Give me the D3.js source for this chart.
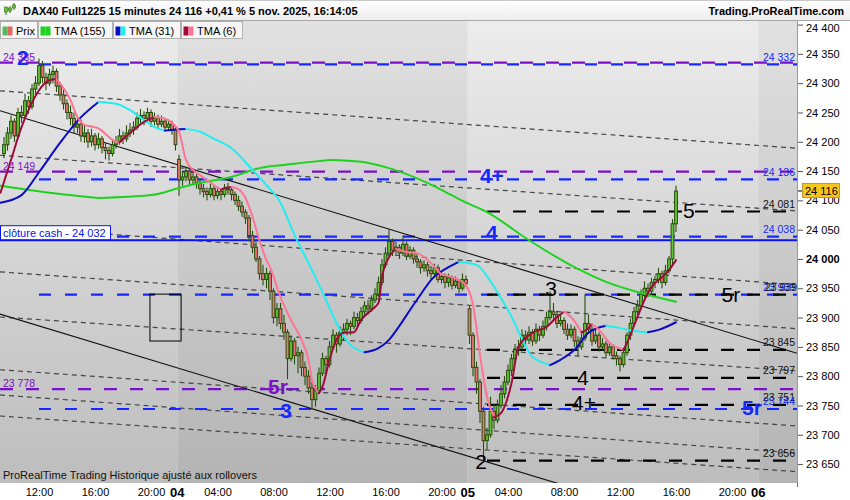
<!DOCTYPE html>
<html><head><meta charset="utf-8">
<script src="https://cdn.jsdelivr.net/npm/d3@7"></script>
<style>body{margin:0;background:#fff}svg{display:block;font-family:"Liberation Sans",Arial,sans-serif}</style>
</head><body><svg id="c" width="850" height="500"></svg>
<script>
// ---------------- DATA ----------------
const dayNames = ["03","04","05","06"];
const sessionOpen = "01:15", firstBarTime = "09:30", barsPerSession = 83;
const timeTicks = [[0,"12:00"],[0,"16:00"],[0,"20:00"],[1,"04:00"],[1,"08:00"],[1,"12:00"],[1,"16:00"],[1,"20:00"],[2,"04:00"],[2,"08:00"],[2,"12:00"],[2,"16:00"],[2,"20:00"]];
const dayTicks = [1,2,3];
const yTicks = [23650,23700,23750,23800,23850,23900,23950,24000,24050,24100,24150,24200,24250,24300,24350,24400];
const lastPrice = 24116;

const opens = [
24180,24195,24215,24235,24210,24250,24245,24270,24260,24290,
24300,24330,24310,24300,24315,24320,24295,24280,24265,24250,
24240,24225,24230,24210,24215,24200,24210,24195,24205,24190,
24185,24180,24195,24200,24210,24205,24215,24220,24225,24240,
24245,24240,24250,24235,24240,24230,24235,24225,24230,24220,
24170,24135,24140,24150,24135,24140,24130,24120,24115,24110,
24120,24108,24115,24110,24120,24118,24110,24100,24090,24080,
24070,24040,24020,24000,23975,23965,23975,23945,23900,23915,
23890,23875,23830,23860,23835,23840,23815,23800,23780,23760,
23775,23805,23830,23820,23850,23870,23855,23875,23880,23890,
23885,23900,23895,23910,23920,23915,23930,23940,23960,23990,
24010,24030,24015,24020,24010,24025,24005,24015,24000,23995,
23985,23990,23980,23975,23985,23965,23970,23960,23968,23955,
23962,23950,23965,23915,23870,23815,23790,23740,23690,23700,
23740,23725,23750,23770,23790,23810,23830,23845,23850,23870,
23862,23875,23860,23880,23870,23885,23900,23910,23905,23890,
23895,23880,23870,23880,23860,23850,23865,23890,23880,23860,
23870,23850,23855,23840,23850,23835,23830,23820,23840,23870,
23890,23910,23920,23940,23950,23945,23960,23965,23975,23960,
23980,24000,24060];
const highs = [
24208,24225,24245,24240,24258,24262,24282,24278,24298,24312,
24342,24338,24318,24325,24330,24325,24302,24290,24272,24262,
24250,24245,24238,24228,24222,24222,24215,24215,24210,24198,
24192,24205,24210,24222,24218,24228,24232,24235,24250,24256,
24252,24258,24255,24250,24246,24245,24240,24238,24236,24225,
24178,24150,24158,24155,24148,24145,24138,24128,24122,24128,
24125,24122,24120,24128,24130,24122,24115,24108,24098,24085,
24075,24048,24030,24005,23990,23985,23980,23950,23925,23925,
23905,23880,23870,23865,23850,23845,23825,23810,23790,23785,
23815,23840,23835,23860,23880,23875,23885,23890,23898,23895,
23910,23908,23918,23928,23930,23938,23950,23970,24000,24020,
24050,24035,24030,24025,24040,24030,24022,24020,24008,24000,
23998,23995,23988,23992,23990,23978,23975,23975,23972,23970,
23966,23975,23972,23920,23875,23825,23795,23748,23712,23765,
23752,23760,23785,23800,23820,23838,23855,23862,23880,23878,
23885,23880,23890,23886,23895,23910,23945,23925,23912,23905,
23900,23890,23888,23885,23868,23875,23940,23905,23885,23880,
23875,23865,23860,23858,23855,23842,23835,23848,23875,23898,
23918,23930,23948,23962,23958,23968,23972,23985,23980,23990,
24005,24068,24125];
const lows = [
24172,24185,24205,24200,24205,24232,24240,24248,24255,24280,
24295,24300,24288,24295,24300,24285,24270,24255,24238,24228,
24215,24215,24200,24198,24190,24192,24185,24188,24180,24170,
24168,24175,24188,24195,24196,24200,24208,24212,24220,24232,
24228,24235,24225,24228,24222,24225,24218,24220,24212,24185,
24108,24125,24132,24125,24128,24120,24110,24105,24100,24105,
24100,24102,24100,24105,24110,24100,24092,24082,24072,24060,
24030,24010,23995,23965,23955,23950,23930,23890,23885,23880,
23862,23795,23825,23820,23805,23800,23785,23770,23745,23748,
23770,23800,23805,23815,23845,23840,23850,23860,23870,23870,
23880,23885,23890,23900,23905,23910,23925,23935,23955,23985,
24005,24005,24008,24000,24005,23998,24000,23992,23985,23975,
23978,23970,23965,23968,23960,23958,23950,23952,23948,23950,
23942,23946,23952,23855,23800,23770,23720,23656,23675,23695,
23710,23720,23745,23762,23785,23800,23822,23835,23845,23850,
23855,23852,23855,23860,23865,23878,23895,23895,23882,23885,
23872,23862,23865,23850,23835,23845,23860,23872,23852,23855,
23842,23845,23832,23835,23828,23818,23808,23815,23835,23862,
23885,23900,23915,23932,23935,23940,23950,23958,23950,23955,
23975,23990,24046];
const closes = [
24195,24215,24235,24210,24250,24245,24270,24260,24290,24300,
24330,24310,24300,24315,24320,24295,24280,24265,24250,24240,
24225,24230,24210,24215,24200,24210,24195,24205,24190,24185,
24180,24195,24200,24210,24205,24215,24220,24225,24240,24245,
24240,24250,24235,24240,24230,24235,24225,24230,24220,24195,
24135,24140,24150,24135,24140,24130,24120,24115,24110,24120,
24108,24115,24110,24120,24118,24110,24100,24090,24080,24070,
24040,24020,24000,23975,23965,23975,23945,23900,23915,23890,
23875,23830,23860,23835,23840,23815,23800,23780,23760,23775,
23805,23830,23820,23850,23870,23855,23875,23880,23890,23885,
23900,23895,23910,23920,23915,23930,23940,23960,23990,24010,
24030,24015,24020,24010,24025,24005,24015,24000,23995,23985,
23990,23980,23975,23985,23965,23970,23960,23968,23955,23962,
23950,23965,23958,23870,23815,23790,23740,23690,23700,23740,
23725,23750,23770,23790,23810,23830,23845,23850,23870,23862,
23875,23860,23880,23870,23885,23900,23910,23905,23890,23895,
23880,23870,23880,23860,23850,23865,23890,23880,23860,23870,
23850,23855,23840,23850,23835,23830,23820,23840,23870,23890,
23910,23920,23940,23950,23945,23960,23965,23975,23960,23980,
24000,24060,24116];

// moving averages (bar index, price)
const tma155Idx = [-1,13,27,42,50,56,65,73,79,85,93,102,110,119,125,131,138,150,163,172,182,192];
const tma155Val = [24125,24113,24104,24109,24121,24130,24140,24155,24160,24164,24169,24166,24155,24135,24118,24099,24080,24032,23986,23961,23942,23927];
const tma31Idx = [-1,5,10,16,22,27,32,36,40,43,46,49,52,56,60,65,71,75,79,83,88,92,96,99,103,107,110,113,116,119,122,127,130,135,139,142,145,147,151,156,159,163,167,172,176,180,184,187,192];
const tma31Val = [24096,24109,24148,24198,24242,24268,24265,24254,24237,24225,24219,24221,24222,24217,24205,24189,24152,24126,24096,24041,23981,23930,23879,23853,23841,23848,23862,23886,23913,23939,23964,23986,23995,23990,23962,23933,23902,23876,23833,23819,23828,23845,23874,23886,23882,23877,23875,23879,23892];
const tma6Idx = [-1,2,5,7,10,13,15,16,19,21,23,25,27,30,32,33,37,40,43,45,48,50,52,54,56,59,62,63,65,67,69,71,73,75,76,79,82,85,87,88,90,91,93,95,97,100,102,105,107,108,110,112,115,118,122,125,128,130,132,134,136,138,140,142,145,147,151,155,158,160,162,165,167,168,170,173,177,178,181,183,185,188,190,192];
const tma6Val = [24113,24169,24225,24254,24288,24305,24307,24300,24271,24242,24229,24226,24223,24208,24200,24199,24220,24234,24242,24241,24232,24217,24169,24152,24143,24130,24118,24121,24123,24119,24104,24072,24032,23998,23986,23935,23896,23862,23828,23794,23771,23782,23828,23862,23874,23875,23896,23913,23925,23969,24003,24017,24012,24010,23993,23974,23969,23964,23955,23922,23836,23765,23730,23737,23788,23850,23874,23884,23901,23910,23901,23875,23882,23889,23879,23857,23845,23857,23901,23930,23952,23969,23981,23998];

// trend lines: price at left edge and right edge
const dotLeftVal  = [24287,24177,24056,23978,23901,23811,23768,23732];
const dotRightVal = [24189,24082,23956,23881,23809,23715,23669,23637];
const chanLeftVal  = [24253,23906];
const chanRightVal = [23839,23493];

// horizontal levels
const levelVal   = [24335,24332,24149,24136,24081,24038,23939,23939,23845,23797,23778,23751,23744,23656];
const levelKind  = ["purple","blue","purple","blue","black","blue","blue","black","black","black","purple","black","blue","black"];
const levelFrom  = [null,10,null,10,138,10,10,138,138,138,null,138,10,138];
const closeCash = 24032;

// wave labels
const waveText = ["2","4+","4","5","3","5r","4","4+","2","5r","3","5r"];
const waveIdx  = [5.4,139.4,139.4,195.7,156.3,207.7,165.4,165.7,136.3,78.3,80.6,213.7];
const waveVal  = [24344,24143,24046,24082,23949,23940,23797,23756,23655,23783,23742,23746];
const waveKind = ["blue","blue","blue","black","black","black","black","black","black","purple","blue","blue"];

const boxIdx = [41.7,50.6], boxVal = [23940,23860];

// ---------------- DRAW ----------------
const svg = d3.select("#c");
const FF = '"Liberation Sans",Arial,sans-serif';
const plotT = 21, plotB = 483, plotR = 797;
const toMin = t => { const [h,m] = t.split(":").map(Number); return h*60+m; };
const barIndex = (day,t) => day*barsPerSession + (toMin(t)-toMin(sessionOpen))/15 - (toMin(firstBarTime)-toMin(sessionOpen))/15;
const dayStart = d => barIndex(d, sessionOpen);

const x = d3.scaleLinear().domain([-8/7, 793/3.5]).range([0, plotR]);
const y = d3.scaleLinear().domain([23617.7, 24406.1]).range([plotB, plotT]);
const fmt = v => d3.format(",")(Math.round(v)).replace(",", " ");
const COL = {blue:"#1428ff", purple:"#7a10c8", black:"#000"};

const defs = svg.append("defs");
function grad(id, c0, c1){
  const g = defs.append("linearGradient").attr("id",id).attr("x1",0).attr("x2",0)
    .attr("gradientUnits","userSpaceOnUse").attr("y1",plotT).attr("y2",plotB);
  g.append("stop").attr("offset",0).attr("stop-color",c0);
  g.append("stop").attr("offset",1).attr("stop-color",c1);
}
grad("gLight","#ececec","#bdbdbd");
grad("gDark","#e1e1e1","#b4b4b4");
const tg = defs.append("linearGradient").attr("id","gTitle").attr("x1",0).attr("y1",0).attr("x2",0).attr("y2",1);
tg.append("stop").attr("offset",0).attr("stop-color","#ffffff");
tg.append("stop").attr("offset",1).attr("stop-color","#ededed");
defs.append("clipPath").attr("id","clip").append("rect").attr("x",0).attr("y",plotT).attr("width",plotR).attr("height",plotB-plotT);

// title bar
svg.append("rect").attr("x",0).attr("y",0).attr("width",850).attr("height",20).attr("fill","url(#gTitle)");
svg.append("line").attr("x1",0).attr("x2",850).attr("y1",20.5).attr("y2",20.5).attr("stroke","#a8a8a8");
svg.append("line").attr("x1",0).attr("x2",850).attr("y1",0.5).attr("y2",0.5).attr("stroke","#c8c8c8");
[[6,9,15,7,12],[10,6,13,8,11],[14,3,10,5,8]].forEach(c=>{
  svg.append("line").attr("x1",c[0]).attr("x2",c[0]).attr("y1",c[1]).attr("y2",c[2]).attr("stroke","#2f6a12");
  svg.append("rect").attr("x",c[0]-1.5).attr("y",c[3]).attr("width",3).attr("height",c[4]-c[3]).attr("fill","#6cc83a").attr("stroke","#2f6a12").attr("stroke-width",0.6);
});
svg.append("text").attr("x",23).attr("y",15).attr("font-size",11).attr("font-weight","bold").attr("fill","#000")
  .text("DAX40 Full1225 15 minutes 24 116 +0,41 % 5 nov. 2025, 16:14:05");
svg.append("text").attr("x",844).attr("y",15).attr("font-size",11).attr("font-weight","bold").attr("text-anchor","end").attr("fill","#000")
  .text("Trading.ProRealTime.com");

// plot background day bands
const bandEdges = [x.domain()[0], dayStart(1)-0.5, dayStart(2)-0.5, dayStart(3)-0.5, x.domain()[1]];
const plot = svg.append("g").attr("clip-path","url(#clip)");
for(let k=0;k<4;k++){
  plot.append("rect").attr("x",x(bandEdges[k])).attr("y",plotT).attr("width",x(bandEdges[k+1])-x(bandEdges[k])).attr("height",plotB-plotT)
    .attr("fill", k%2===0 ? "url(#gLight)" : "url(#gDark)");
}
const [d0,d1] = x.domain();
dotLeftVal.forEach((v,i)=>{
  plot.append("line").attr("x1",x(d0)).attr("y1",y(v)).attr("x2",x(d1)).attr("y2",y(dotRightVal[i]))
    .attr("stroke","#454545").attr("stroke-width",1.2).attr("stroke-dasharray","5,4");
});
levelVal.forEach((v,i)=>{
  const k = levelKind[i];
  const from = levelFrom[i]===null ? d0 : levelFrom[i];
  plot.append("line").attr("x1",x(from)).attr("x2",x(d1)).attr("y1",y(v)).attr("y2",y(v))
    .attr("stroke",COL[k]).attr("stroke-width",2.2).attr("stroke-dasharray", k==="blue"?"12,14":"13,13");
});
plot.append("line").attr("x1",x(d0)).attr("x2",x(d1)).attr("y1",y(closeCash)).attr("y2",y(closeCash))
  .attr("stroke","#0a14f0").attr("stroke-width",2);
chanLeftVal.forEach((v,i)=>{
  plot.append("line").attr("x1",x(d0)).attr("y1",y(v)).attr("x2",x(d1)).attr("y2",y(chanRightVal[i]))
    .attr("stroke","#111").attr("stroke-width",1.1);
});
plot.append("rect").attr("x",x(boxIdx[0])).attr("y",y(boxVal[0])).attr("width",x(boxIdx[1])-x(boxIdx[0])).attr("height",y(boxVal[1])-y(boxVal[0]))
  .attr("fill","none").attr("stroke","#000").attr("stroke-width",1);

// candles
const cg = plot.append("g");
closes.forEach((c,i)=>{
  const o = opens[i], cx = x(i);
  cg.append("line").attr("x1",cx).attr("x2",cx).attr("y1",y(highs[i])).attr("y2",y(lows[i])).attr("stroke","#264e0c").attr("stroke-width",1.1);
  const top = y(Math.max(o,c)), bot = y(Math.min(o,c));
  cg.append("rect").attr("x",cx-1.4).attr("y",top).attr("width",2.8).attr("height",Math.max(1,bot-top))
    .attr("fill", c>=o ? "#62c636" : "#ee7474").attr("stroke","#264e0c").attr("stroke-width",1);
});

function colored(idx, vals, up, down, w){
  let runs = [], cur = [[idx[0],vals[0]]], dir = null;
  for(let k=1;k<idx.length;k++){
    const d = vals[k]>=vals[k-1] ? 1 : -1;
    if(dir===null) dir = d;
    if(d!==dir){ runs.push({dir, pts:cur}); cur=[[idx[k-1],vals[k-1]]]; dir=d; }
    cur.push([idx[k],vals[k]]);
  }
  runs.push({dir, pts:cur});
  const line = d3.line().x(p=>x(p[0])).y(p=>y(p[1])).curve(d3.curveMonotoneX);
  runs.forEach(r=>{
    plot.append("path").attr("d",line(r.pts)).attr("fill","none").attr("stroke", r.dir>0?up:down)
      .attr("stroke-width",w).attr("stroke-linecap","round");
  });
}
colored(tma155Idx, tma155Val, "#1fd21f", "#1fd21f", 2);
colored(tma31Idx, tma31Val, "#0c0cc4", "#22eef2", 2);
colored(tma6Idx, tma6Val, "#9e0a3c", "#ff7395", 2);

waveText.forEach((t,i)=>{
  const k = waveKind[i];
  plot.append("text").attr("x",x(waveIdx[i])).attr("y",y(waveVal[i])).attr("dy","0.36em")
    .attr("text-anchor","middle").attr("font-size",21).attr("font-weight", k==="black"?"normal":"bold")
    .attr("fill",COL[k]).text(t);
});

const shown = {};
levelVal.forEach((v,i)=>{
  const k = levelKind[i];
  if(k==="purple"){
    plot.append("text").attr("x",3).attr("y",y(v)-2).attr("font-size",10.5).attr("fill",COL.purple).text(fmt(v));
  } else {
    const dx = (shown[v] ? 2 : 0); shown[v] = true;
    plot.append("text").attr("x",795+dx).attr("y",y(v)-3.5).attr("text-anchor","end").attr("font-size",10.5)
      .attr("fill", k==="blue" ? COL.blue : "#111").text(fmt(v));
  }
});

svg.append("rect").attr("x",0.5).attr("y",y(closeCash)-14.5).attr("width",110).attr("height",14).attr("fill","#fff").attr("stroke","#0a14f0");
svg.append("text").attr("x",3).attr("y",y(closeCash)-3.5).attr("font-size",11).attr("fill","#0a14f0").text("clôture cash -  " + fmt(closeCash));

const legend = [
  {x:0,w:37,label:"Prix",c:["#5cb85c","#e06666"]},
  {x:38,w:74,label:"TMA (155)",c:["#1fd21f","#1fd21f"]},
  {x:113,w:67,label:"TMA (31)",c:["#0c0cc4","#22eef2"]},
  {x:181,w:61,label:"TMA (6)",c:["#9e0a3c","#ff7395"]}
];
legend.forEach(l=>{
  svg.append("rect").attr("x",l.x+0.5).attr("y",21.5).attr("width",l.w).attr("height",17).attr("fill","#f6f6f6").attr("stroke","#b0b0b0");
  svg.append("rect").attr("x",l.x+2.5).attr("y",26.5).attr("width",5).attr("height",9).attr("fill",l.c[0]);
  svg.append("rect").attr("x",l.x+7.5).attr("y",26.5).attr("width",5).attr("height",9).attr("fill",l.c[1]);
  svg.append("text").attr("x",l.x+16).attr("y",34.5).attr("font-size",11).attr("fill","#000").text(l.label);
});

svg.append("text").attr("x",3).attr("y",479).attr("font-size",11).attr("fill","#111").text("ProRealTime Trading  Historique ajusté aux rollovers");

svg.append("rect").attr("x",plotR+1).attr("y",plotT).attr("width",850-plotR-1).attr("height",500-plotT).attr("fill","#fff");
svg.append("rect").attr("x",0).attr("y",plotB).attr("width",850).attr("height",500-plotB).attr("fill","#fff");
svg.append("line").attr("x1",plotR+0.5).attr("x2",plotR+0.5).attr("y1",plotT).attr("y2",plotB).attr("stroke","#9a9a9a");

const ga = svg.append("g").attr("transform",`translate(${plotR+1},0)`)
  .call(d3.axisRight(y).tickValues(yTicks).tickSize(5).tickPadding(3).tickFormat(fmt));
ga.select(".domain").remove();
ga.selectAll("line").attr("stroke","#555");
ga.selectAll("text").attr("font-size",11).attr("font-family",FF).attr("fill","#000");
ga.selectAll(".tick").filter(d=>d===24000).select("text").attr("font-weight","bold");
ga.selectAll(".tick").filter(d=>d===24400).select("text").attr("transform","translate(0,3)");

const tIdx = timeTicks.map(t=>barIndex(t[0],t[1]));
const gx = svg.append("g").attr("transform",`translate(0,${plotB})`)
  .call(d3.axisBottom(x).tickValues(tIdx).tickSize(0).tickPadding(5).tickFormat((d,i)=>timeTicks[i][1]));
gx.select(".domain").remove();
gx.selectAll("text").attr("font-size",11).attr("font-family",FF).attr("fill","#000");
dayTicks.forEach(d=>{
  svg.append("text").attr("x",x(dayStart(d)-0.5)).attr("y",497).attr("text-anchor","middle").attr("font-size",13)
    .attr("font-weight","bold").attr("fill","#000").text(dayNames[d]);
});
svg.append("line").attr("x1",plotR+0.5).attr("x2",plotR+0.5).attr("y1",plotB).attr("y2",plotB+4).attr("stroke","#777");

const yl = y(lastPrice);
svg.append("line").attr("x1",plotR+1).attr("x2",plotR+6).attr("y1",yl).attr("y2",yl).attr("stroke","#000");
svg.append("rect").attr("x",plotR+5.5).attr("y",yl-7.5).attr("width",37).attr("height",14).attr("fill","#f8c51c").attr("stroke","#b89a40");
svg.append("text").attr("x",plotR+8).attr("y",yl+4).attr("font-size",11).attr("fill","#000").text(fmt(lastPrice));
</script></body></html>
